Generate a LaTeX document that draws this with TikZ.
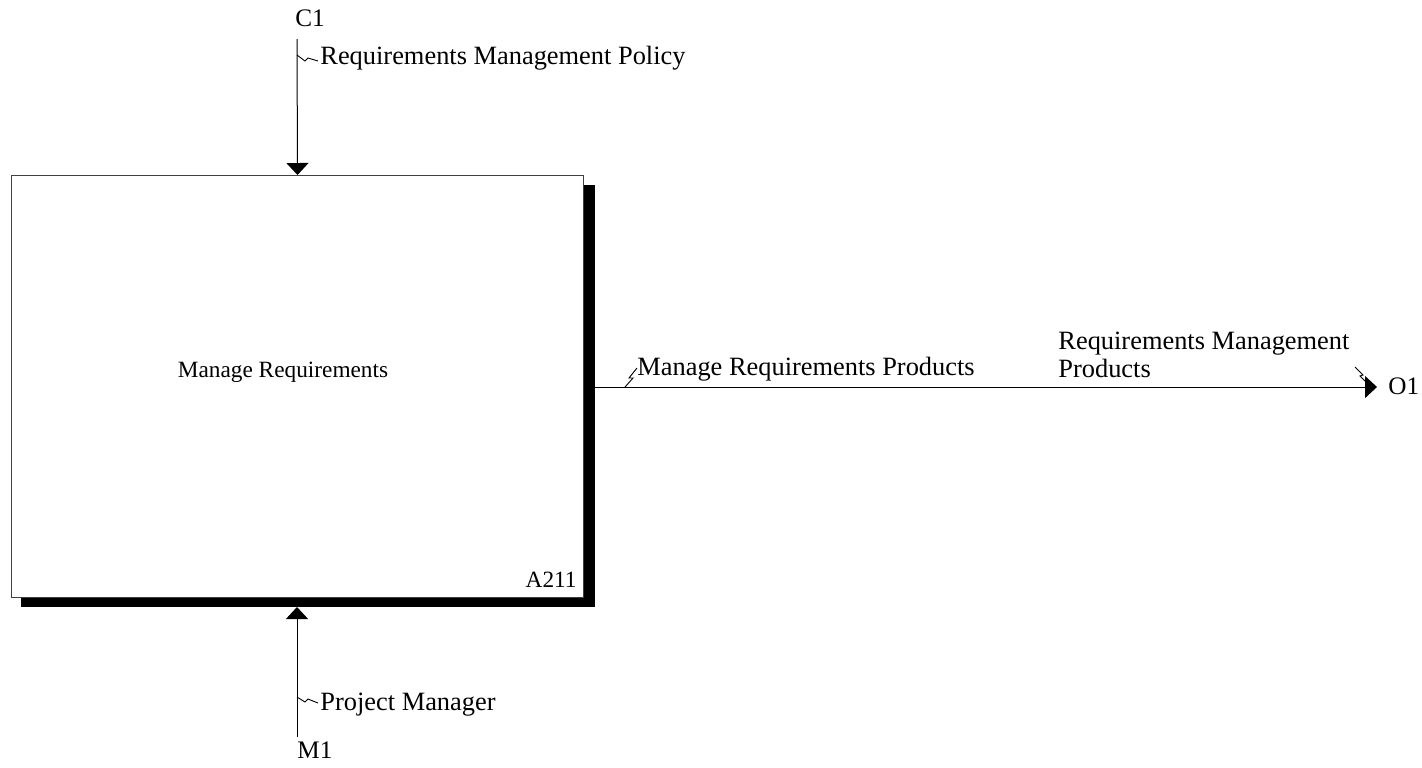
\documentclass[tikz,border=0pt]{standalone}
\usepackage{fontspec}
\setmainfont{Liberation Serif}
\usetikzlibrary{arrows.meta}
\begin{document}
\begin{tikzpicture}[x=0.5pt,y=-0.5pt,
  lbl/.style={inner sep=0pt,font=\fontsize{13.2}{15}\selectfont},
  tag/.style={inner sep=0pt,font=\fontsize{12.6}{15}\selectfont},
  boxlbl/.style={inner sep=0pt,font=\fontsize{11.65}{13}\selectfont},
  conn/.style={line width=0.5pt,-{Triangle[length=6pt,width=11pt]}},
  squig/.style={line width=0.45pt},
  shadowbox/.style={fill=black,draw=none},
  actbox/.style={draw=black!75,line width=0.5pt,fill=white,minimum width=286pt,minimum height=211pt,inner sep=0pt}]
\useasboundingbox (0,0) rectangle (1422,767);
% shadow and activity box
\fill[shadowbox] (21,185) rectangle (595,607);
\node[actbox,anchor=north west] (box) at (11,175) {};
\node[boxlbl,anchor=base] (title) at (283,377) {Manage Requirements};
\node[boxlbl,anchor=base east] (num) at (577,587) {A211};
% control C1
\node[tag,anchor=base west] (c1) at (295,26) {C1};
\coordinate (c1end) at (297,39);
\draw[conn] (c1end) -- (box.north);
\node[lbl,anchor=base west] (c1lab) at (320,64) {Requirements Management Policy};
\draw[squig] (297,55) -- (305,61) -- (308,58) -- (318,61);
% mechanism M1
\node[tag,anchor=base west] (m1) at (297,758) {M1};
\coordinate (m1end) at (297,737);
\coordinate (shadowbottom) at (297,607);
\draw[conn] (m1end) -- (shadowbottom);
\node[lbl,anchor=base west] (m1lab) at (320,710) {Project Manager};
\draw[squig] (297,697) -- (305,702) -- (308,699) -- (318,703);
% output O1
\coordinate (outstart) at (595,387);
\coordinate (o1tip) at (1377,387);
\node[tag,anchor=base west] (o1) at (1388,394) {O1};
\draw[conn] (outstart) -- (o1tip);
\node[lbl,anchor=base west] (mrp) at (637,375) {Manage Requirements Products};
\draw[squig] (625,387) -- (633,378) -- (629,378) -- (637,368);
\node[lbl,anchor=base west] (rmpa) at (1058,349) {Requirements Management};
\node[lbl,anchor=base west] (rmpb) at (1058,377) {Products};
\draw[squig] (1355,367) -- (1363,375) -- (1360,376) -- (1367,383);
\end{tikzpicture}
\end{document}
